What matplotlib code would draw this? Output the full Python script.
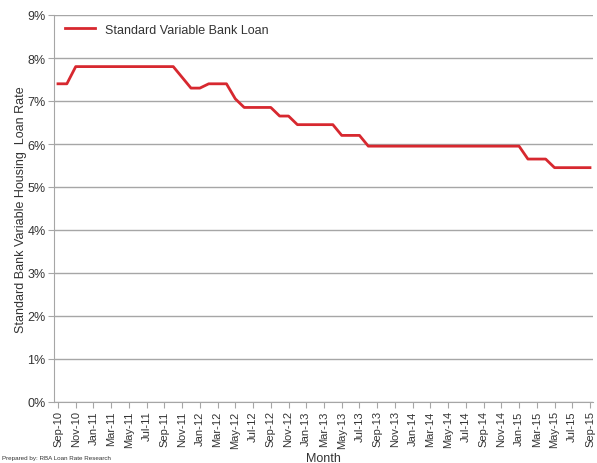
import numpy as np
import matplotlib
matplotlib.use('Agg')
import matplotlib.pyplot as plt

plt.rcParams['font.family'] = ['Liberation Sans', 'DejaVu Sans']

months = ['Sep-10', 'Oct-10', 'Nov-10', 'Dec-10', 'Jan-11', 'Feb-11', 'Mar-11', 'Apr-11',
          'May-11', 'Jun-11', 'Jul-11', 'Aug-11', 'Sep-11', 'Oct-11', 'Nov-11', 'Dec-11',
          'Jan-12', 'Feb-12', 'Mar-12', 'Apr-12', 'May-12', 'Jun-12', 'Jul-12', 'Aug-12',
          'Sep-12', 'Oct-12', 'Nov-12', 'Dec-12', 'Jan-13', 'Feb-13', 'Mar-13', 'Apr-13',
          'May-13', 'Jun-13', 'Jul-13', 'Aug-13', 'Sep-13', 'Oct-13', 'Nov-13', 'Dec-13',
          'Jan-14', 'Feb-14', 'Mar-14', 'Apr-14', 'May-14', 'Jun-14', 'Jul-14', 'Aug-14',
          'Sep-14', 'Oct-14', 'Nov-14', 'Dec-14', 'Jan-15', 'Feb-15', 'Mar-15', 'Apr-15',
          'May-15', 'Jun-15', 'Jul-15', 'Aug-15', 'Sep-15']

rate = [7.40, 7.40, 7.80, 7.80, 7.80, 7.80, 7.80, 7.80,
        7.80, 7.80, 7.80, 7.80, 7.80, 7.80, 7.55, 7.30,
        7.30, 7.40, 7.40, 7.40, 7.05, 6.85, 6.85, 6.85,
        6.85, 6.65, 6.65, 6.45, 6.45, 6.45, 6.45, 6.45,
        6.20, 6.20, 6.20, 5.95, 5.95, 5.95, 5.95, 5.95,
        5.95, 5.95, 5.95, 5.95, 5.95, 5.95, 5.95, 5.95,
        5.95, 5.95, 5.95, 5.95, 5.95, 5.65, 5.65, 5.65,
        5.45, 5.45, 5.45, 5.45, 5.45]

W, H = 597, 464
txt = '#333333'
fig = plt.figure(figsize=(W/100, H/100), dpi=100)
ax = fig.add_axes([54/W, 1-403/H, (593-54)/W, (403-16)/H])

x = np.arange(len(months))
ax.plot(x, rate, color='#d7282f', lw=2.0, label='Standard Variable Bank Loan')

ax.set_xlim(-0.45, 60.34)
ax.set_ylim(0, 9)
ax.set_yticks(range(0, 10))
ax.set_yticklabels(['{}%'.format(i) for i in range(0, 10)], fontsize=9, color=txt)
ax.set_xticks(x[::2])
ax.set_xticklabels(months[::2], rotation=90, fontsize=8, color=txt)
ax.yaxis.grid(True, color='#a6a6a6', lw=1)
ax.set_axisbelow(True)
for s in ['top', 'right']:
    ax.spines[s].set_visible(False)
for s in ['left', 'bottom']:
    ax.spines[s].set_color('#a6a6a6')
ax.tick_params(axis='both', color='#a6a6a6', length=4, pad=2)

ax.set_ylabel('Standard Bank Variable Housing  Loan Rate', fontsize=9, labelpad=0, color=txt)
ax.set_xlabel('Month', fontsize=9, labelpad=3, color=txt)
leg = ax.legend(loc='upper left', frameon=False, fontsize=9, handlelength=2.4,
                borderaxespad=0.3, bbox_to_anchor=(0.005, 1.0))
for t in leg.get_texts():
    t.set_color(txt)

fig.text(2/W, 1-459/H, 'Prepared by: RBA Loan Rate Research', fontsize=4.5, va='center', color=txt)

fig.savefig('out.png', dpi=100)
